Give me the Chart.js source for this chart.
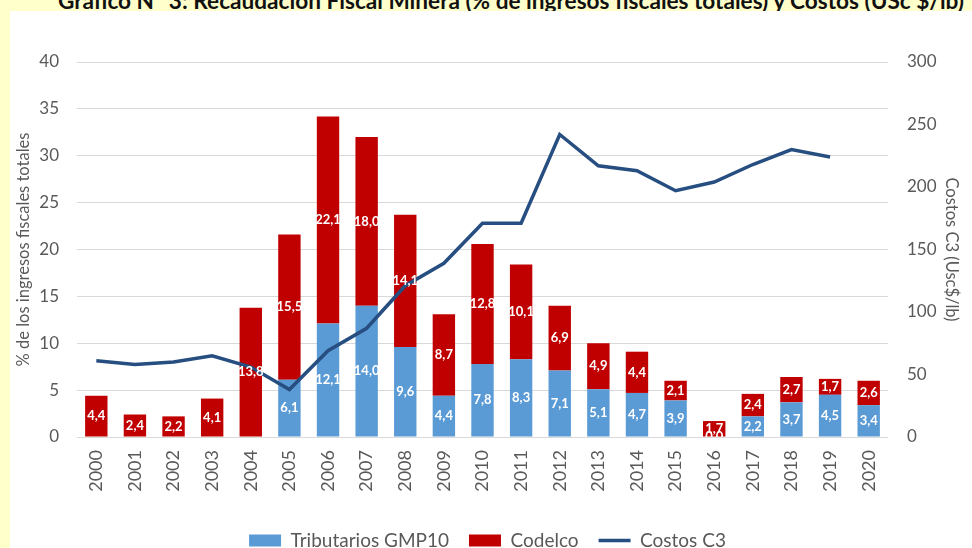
<!DOCTYPE html>
<html lang="es">
<head>
<meta charset="utf-8">
<title>Recaudación Fiscal Minera y Costos C3</title>
<script src="https://cdn.jsdelivr.net/npm/chart.js@4.4.1/dist/chart.umd.min.js"></script>
<style>
  html, body { margin: 0; padding: 0; }
  body { width: 972px; height: 548px; overflow: hidden; background: #FFFFCC; position: relative; }
  #title { position: absolute; left: 58px; top: -9px; font-family: Lato, sans-serif; font-weight: bold; font-size: 20px; line-height: 20px; color: #111; white-space: nowrap; }
  #wrap { position: absolute; left: 10px; top: 11px; width: 962px; height: 560px; background: #fff; }
</style>
</head>
<body>
<div id="title">Gráfico N° 3: Recaudación Fiscal Minera (% de ingresos fiscales totales) y Costos (USc $/lb)</div>
<div id="wrap"><canvas id="chart" width="962" height="560"></canvas></div>
<script>
const years = ['2000', '2001', '2002', '2003', '2004', '2005', '2006', '2007', '2008', '2009', '2010',
  '2011', '2012', '2013', '2014', '2015', '2016', '2017', '2018', '2019', '2020'];
const tributarios = [null, null, null, null, null, 6.1, 12.1, 14.0, 9.6, 4.4, 7.8,
  8.3, 7.1, 5.1, 4.7, 3.9, 0.0, 2.2, 3.7, 4.5, 3.4];
const codelco = [4.4, 2.4, 2.2, 4.1, 13.8, 15.5, 22.1, 18.0, 14.1, 8.7, 12.8,
  10.1, 6.9, 4.9, 4.4, 2.1, 1.7, 2.4, 2.7, 1.7, 2.6];
const costosC3 = [61, 58, 60, 65, 56, 38, 69, 87, 121, 139, 171,
  171, 242, 217, 213, 197, 204, 218, 230, 224, null];

const GREY = '#595959';
const FONT = 'Lato';

// fit the (mostly hidden) title to its width in the reference
const titleEl = document.getElementById('title');
const mctx = document.createElement('canvas').getContext('2d');
mctx.font = 'bold 20px ' + FONT;
const tw = mctx.measureText(titleEl.textContent).width;
titleEl.style.fontSize = (20 * 907 / tw).toFixed(2) + 'px';

// white value labels centred in every bar segment
const barLabels = {
  id: 'barLabels',
  afterDatasetsDraw(chart) {
    const { ctx, chartArea } = chart;
    ctx.save();
    ctx.beginPath();
    ctx.rect(chartArea.left, chartArea.top, chartArea.right - chartArea.left, chartArea.bottom - chartArea.top);
    ctx.clip();
    ctx.font = 'bold 13px ' + FONT;
    ctx.fillStyle = '#ffffff';
    ctx.textAlign = 'center';
    ctx.textBaseline = 'middle';
    [0, 1].forEach(i => {
      const values = chart.data.datasets[i].data;
      chart.getDatasetMeta(i).data.forEach((bar, j) => {
        const v = values[j];
        if (v === null) return;
        ctx.fillText(v.toFixed(1).replace('.', ','), bar.x, (bar.y + bar.base) / 2);
      });
    });
    ctx.restore();
  }
};

const tickFont = { family: FONT, size: 17 };
const titleFont = { family: FONT, size: 16.5 };

new Chart(document.getElementById('chart'), {
  type: 'bar',
  data: {
    labels: years,
    datasets: [
      {
        label: 'Tributarios GMP10',
        data: tributarios,
        backgroundColor: '#5B9BD5',
        pointStyle: 'rect',
        yAxisID: 'y',
        order: 1,
        categoryPercentage: 0.58,
        barPercentage: 1
      },
      {
        label: 'Codelco',
        data: codelco,
        backgroundColor: '#C00000',
        pointStyle: 'rect',
        yAxisID: 'y',
        order: 1,
        categoryPercentage: 0.58,
        barPercentage: 1
      },
      {
        type: 'line',
        label: 'Costos C3',
        data: costosC3,
        borderColor: '#264E80',
        backgroundColor: '#264E80',
        borderWidth: 3.5,
        pointRadius: 0,
        pointStyle: 'line',
        tension: 0,
        yAxisID: 'y1',
        order: 0
      }
    ]
  },
  options: {
    responsive: false,
    animation: false,
    layout: { padding: { left: 4, right: 11, top: 51, bottom: 11 } },
    scales: {
      x: {
        stacked: true,
        grid: { display: false, drawTicks: false },
        border: { display: false },
        ticks: { color: GREY, font: { family: FONT, size: 18 }, minRotation: 90, maxRotation: 90, padding: 13 },
        afterFit(scale) { scale.height = 74; }
      },
      y: {
        stacked: true,
        min: 0,
        max: 40,
        ticks: { stepSize: 5, color: GREY, font: tickFont, padding: 18 },
        grid: { color: '#D9D9D9', lineWidth: 1, drawTicks: false },
        border: { display: false },
        title: { display: true, text: '% de los ingresos fiscales totales', color: GREY, font: titleFont, padding: 0 },
        afterFit(scale) { scale.width = 63; }
      },
      y1: {
        position: 'right',
        min: 0,
        max: 300,
        ticks: { stepSize: 50, color: GREY, font: tickFont, padding: 19 },
        grid: { display: false, drawTicks: false },
        border: { display: false },
        title: { display: true, text: 'Costos C3 (Usc$/lb)', color: GREY, font: titleFont, padding: 0 },
        afterFit(scale) { scale.width = 73; }
      }
    },
    plugins: {
      legend: {
        position: 'bottom',
        labels: {
          usePointStyle: true,
          pointStyleWidth: 32,
          boxHeight: 12,
          color: GREY,
          font: { family: FONT, size: 19 },
          padding: 20,
          sort: (a, b) => a.datasetIndex - b.datasetIndex
        }
      },
      tooltip: { enabled: false }
    }
  },
  plugins: [barLabels]
});
</script>
</body>
</html>
